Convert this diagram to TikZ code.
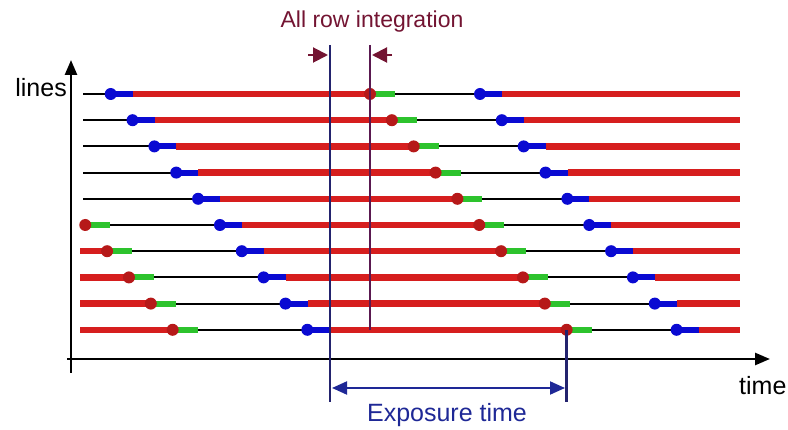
\documentclass[tikz,border=0pt]{standalone}
\usepackage{fontspec}
\setmainfont{Liberation Sans}
\usetikzlibrary{arrows.meta}
\definecolor{rowred}{RGB}{214,30,30}
\definecolor{rowblue}{RGB}{10,10,210}
\definecolor{rowgreen}{RGB}{45,195,45}
\definecolor{intmaroon}{RGB}{115,20,50}
\definecolor{intline}{RGB}{90,25,80}
\definecolor{expnavy}{RGB}{30,40,150}
\definecolor{expline}{RGB}{35,35,110}
\begin{document}
\begin{tikzpicture}[x=1pt,y=-1pt,
  idle/.style={draw=black,line width=2pt},
  exposing/.style={draw=rowred,line width=6.5pt},
  resetting/.style={draw=rowblue,line width=6pt},
  reading/.style={draw=rowgreen,line width=6pt},
  resetdot/.style={fill=rowblue},
  readdot/.style={fill=rowred!85!black},
  axis/.style={draw=black,line width=2.5pt,-{Triangle[length=15pt,width=12pt]}},
  lbl/.style={font=\fontsize{23}{26}\selectfont,inner sep=0pt},
  biglbl/.style={font=\fontsize{25}{28}\selectfont,inner sep=0pt}]
\useasboundingbox (0,0) rectangle (788,430);

% sensor rows: idle, reset, exposure, readout
\foreach \i in {0,...,9}{
  \pgfmathsetmacro\y{94+26.2*\i}
  \pgfmathsetmacro\bA{110.7+21.85*\i}
  \pgfmathsetmacro\rB{370+21.85*\i}
  \pgfmathsetmacro\bB{480+21.85*\i}
  \pgfmathsetmacro\rA{\rB-394}
  \ifnum\i<5
    \draw[idle] (83,\y) -- (\bA,\y);
  \else
    \draw[exposing] (80,\y) -- (\rA,\y);
    \draw[reading] (\rA,\y) -- (\rA+25,\y);
    \draw[idle] (\rA+25,\y) -- (\bA,\y);
    \fill[readdot] (\rA,\y) circle (6);
  \fi
  \draw[resetting] (\bA,\y) -- (\bA+22,\y);
  \draw[exposing] (\bA+22,\y) -- (\rB,\y);
  \draw[reading] (\rB,\y) -- (\rB+25,\y);
  \draw[idle] (\rB+25,\y) -- (\bB,\y);
  \draw[resetting] (\bB,\y) -- (\bB+22,\y);
  \draw[exposing] (\bB+22,\y) -- (740,\y);
  \fill[resetdot] (\bA,\y) circle (6);
  \fill[readdot] (\rB,\y) circle (6);
  \fill[resetdot] (\bB,\y) circle (6);
}

% axes
\draw[axis] (71,373) -- (71,60);
\draw[axis] (67,359) -- (770,359);
\node[biglbl,anchor=base east] (ylab) at (67,97) {lines};
\node[biglbl,anchor=base west] (xlab) at (739,395) {time};

% all-row integration window
\coordinate (lastreset) at (330,45);
\coordinate (firstread) at (370,45);
\coordinate (lastread) at (566.6,329.8);
\draw[expline,line width=2pt] (lastreset) -- (330,402);
\draw[intline,line width=2.5pt] (firstread) -- (370,329.8);
\draw[expline,line width=2.5pt] (lastread) -- (566.6,402);
\draw[intmaroon,line width=2pt,-{Triangle[length=15pt,width=15pt]}] (308,55) -- (328,55);
\draw[intmaroon,line width=2pt,-{Triangle[length=15pt,width=15pt]}] (392,55) -- (372,55);
\node[lbl,anchor=base,text=intmaroon] (intlab) at (372,28) {All row integration};

% exposure time
\draw[expnavy,line width=2pt,{Triangle[length=15pt,width=13pt]}-{Triangle[length=15pt,width=13pt]}] (332,388) -- (565,388);
\node[biglbl,anchor=base,text=expnavy] (explab) at (447,422) {Exposure time};
\end{tikzpicture}
\end{document}
